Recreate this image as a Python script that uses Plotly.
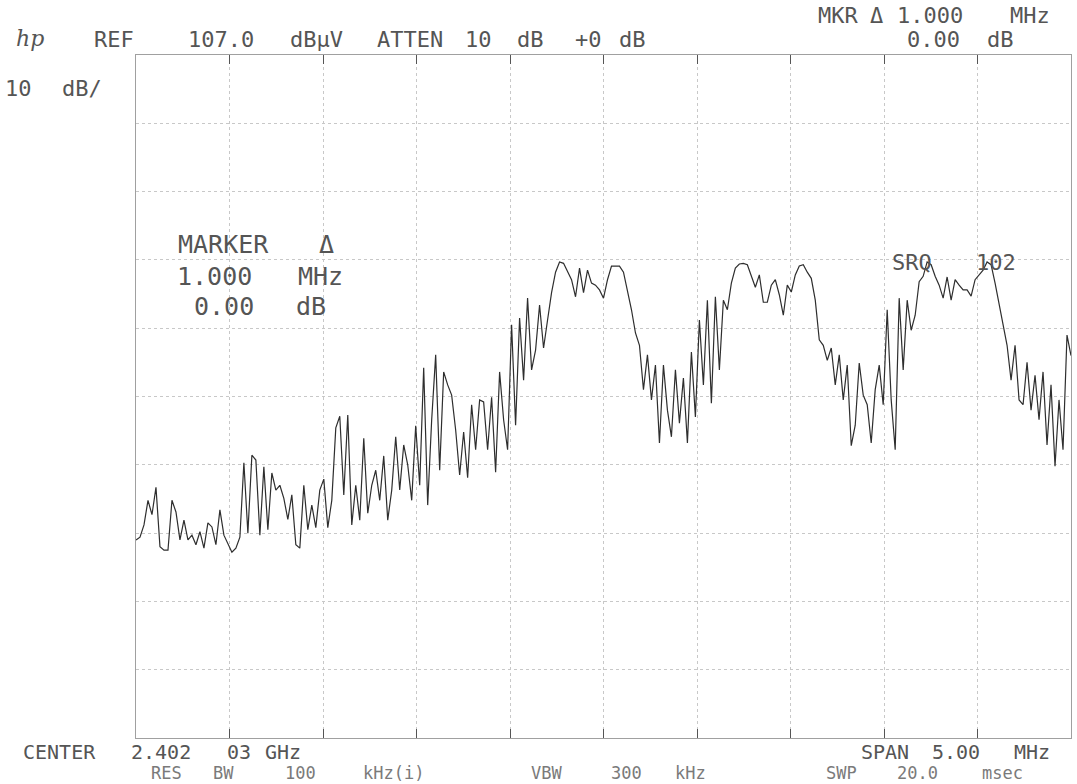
import numpy as np
import plotly.graph_objects as go

# ---- instrument settings ----
center_mhz = 2402.03
span_mhz = 5.00
ref_level_dbuv = 107.0
db_per_div = 10.0

# ---- measured trace, dBuV, one value per sweep bucket across the span ----
trace_db = [
    36.0, 36.4, 38.2, 41.8, 39.7, 43.7, 35.0, 34.5, 34.5, 41.8,
    40.1, 36.0, 38.9, 36.0, 36.7, 35.3, 37.2, 34.8, 38.5, 37.9,
    35.3, 40.4, 36.7, 35.5, 34.2, 34.8, 36.4, 47.3, 37.0, 48.4,
    47.7, 36.7, 46.7, 37.5, 45.8, 43.3, 44.0, 42.1, 39.0, 42.6,
    35.3, 34.8, 44.0, 37.5, 41.1, 37.8, 43.3, 44.9, 37.8, 41.8,
    52.4, 54.1, 42.6, 54.3, 38.2, 44.0, 38.9, 50.9, 39.9, 44.0,
    46.2, 41.8, 48.3, 38.9, 43.3, 51.1, 43.3, 49.9, 47.0, 41.8,
    52.7, 44.0, 61.2, 41.1, 53.6, 63.1, 46.2, 60.6, 58.7,
    57.2, 52.1, 45.5, 51.8, 45.1, 55.8, 49.2, 56.5, 56.2, 49.2, 56.9,
    45.9, 60.6, 53.6, 49.2, 67.5, 52.8, 68.5, 59.4, 71.4, 60.9,
    63.8, 70.4, 64.1, 68.2, 72.2, 75.2, 76.7, 76.5, 75.2, 74.1,
    71.6, 75.8, 72.2, 75.5, 73.6, 73.3, 72.6, 71.4, 74.1, 76.1,
    76.1, 76.1, 75.2, 72.6, 69.7, 66.3, 64.5, 58.0, 63.1, 56.5,
    61.6, 50.2, 61.6, 55.0, 51.1, 60.9, 53.1, 59.7, 50.2, 63.5,
    54.0, 68.2, 58.7, 71.1, 56.0, 71.6, 60.9, 71.1, 69.7, 73.6,
    75.8, 76.4, 76.5, 76.3, 74.8, 73.0, 74.8, 70.8, 70.8, 73.3,
    74.1, 71.9, 68.9, 73.3, 72.3, 74.8, 76.1, 76.3, 75.2, 74.3,
    71.1, 65.3, 64.5, 62.3, 64.1, 58.7, 63.1, 56.5, 61.6, 49.8,
    52.8, 61.9, 57.2, 55.8, 50.2, 58.0, 61.6, 55.8, 69.7, 56.5,
    49.2, 71.4, 60.9, 71.1, 66.7, 68.9, 73.8, 74.6, 76.7, 76.3,
    74.6, 73.3, 71.4, 74.5, 71.1, 74.1, 73.3, 72.6, 72.6, 71.7,
    74.1, 74.8, 75.5, 76.7, 76.3, 73.6, 70.4, 67.5, 64.5, 59.4,
    64.5, 56.5, 55.8, 62.0, 55.0, 60.1, 53.6, 60.6, 49.9, 58.7,
    46.8, 56.5, 49.2, 66.0, 63.0,
]

start_mhz = center_mhz - span_mhz / 2
stop_mhz = center_mhz + span_mhz / 2
freq_mhz = np.linspace(start_mhz, stop_mhz, len(trace_db))

# ---- screen annotation text (words of the analyzer's readout) ----
top_words = ["REF", "107.0", "dBµV", "ATTEN", "10", "dB", "+0", "dB"]
mkr_words = ["MKR", "Δ", "1.000", "MHz"]
mkr_val_words = ["0.00", "dB"]
scale_words = ["10", "dB/"]
marker_block = [["MARKER", "Δ"], ["1.000", "MHz"], ["0.00", "dB"]]
srq_words = ["SRQ", "102"]
center_words = ["CENTER", "2.402", "03", "GHz"]
span_words = ["SPAN", "5.00", "MHz"]
bw_words = ["RES", "BW", "100", "kHz(i)", "VBW", "300", "kHz"]
swp_words = ["SWP", "20.0", "msec"]

# ---- layout geometry ----
W, H = 1077, 784
L, R, T, B = 136, 6, 55, 46
PW, PH = W - L - R, H - T - B

def px(x, y):
    return (x - L) / PW, (H - B - y) / PH

FONT = "DejaVu Sans Mono"
TXT = "#555555"

fig = go.Figure()
fig.add_trace(go.Scatter(
    x=freq_mhz, y=trace_db, mode="lines",
    line=dict(color="#2e2e2e", width=1.2),
    hoverinfo="skip", showlegend=False,
))

annotations = []

def put(words, centers, y, size=22, color=TXT):
    for w, cx in zip(words, centers):
        xp, yp = px(cx, y)
        annotations.append(dict(
            text=w, x=xp, y=yp, xref="paper", yref="paper",
            xanchor="center", yanchor="middle", showarrow=False,
            font=dict(family=FONT, size=size, color=color),
        ))

put(top_words, [114, 221, 316, 410, 478, 530, 588, 632], 40)
put(mkr_words, [838, 876, 930, 1030], 15)
put(mkr_val_words, [933, 1000], 40)
put(scale_words, [18, 82], 88)
put(marker_block[0], [223, 326], 245, size=25)
put(marker_block[1], [214, 320], 276, size=25)
put(marker_block[2], [224, 311], 306, size=25)
put(srq_words, [912, 996], 262)
put(center_words, [59, 161, 239, 283], 752, size=20)
put(span_words, [885, 956, 1032], 752, size=20)
put(bw_words, [166, 223, 300, 393, 546, 626, 690], 773, size=17, color="#7a7a7a")
put(swp_words, [841, 917, 1002], 773, size=17, color="#7a7a7a")

# hp logo
xp, yp = px(30, 38)
annotations.append(dict(
    text="<i>hp</i>", x=xp, y=yp, xref="paper", yref="paper",
    xanchor="center", yanchor="middle", showarrow=False,
    font=dict(family="DejaVu Serif", size=22, color=TXT),
))

fig.update_layout(
    width=W, height=H,
    margin=dict(l=L, r=R, t=T, b=B, pad=0),
    paper_bgcolor="white", plot_bgcolor="white",
    annotations=annotations,
    xaxis=dict(
        range=[start_mhz, stop_mhz], tick0=start_mhz, dtick=span_mhz / 10,
        showgrid=True, gridcolor="#c8c8c8", griddash="dot", gridwidth=1,
        showticklabels=False, ticks="inside", ticklen=9, tickcolor="#555",
        showline=True, linecolor="#a0a0a0", linewidth=1, mirror="ticks",
        zeroline=False, fixedrange=True,
    ),
    yaxis=dict(
        range=[ref_level_dbuv - 10 * db_per_div, ref_level_dbuv],
        tick0=ref_level_dbuv - 10 * db_per_div, dtick=db_per_div,
        showgrid=True, gridcolor="#c8c8c8", griddash="dot", gridwidth=1,
        showticklabels=False, ticks="",
        showline=True, linecolor="#a0a0a0", linewidth=1, mirror=True,
        zeroline=False, fixedrange=True,
    ),
)

fig.write_html(
    "out.html",
    config={"displayModeBar": False, "staticPlot": True},
    post_script="document.body.style.margin='0';document.body.style.padding='0';",
)
